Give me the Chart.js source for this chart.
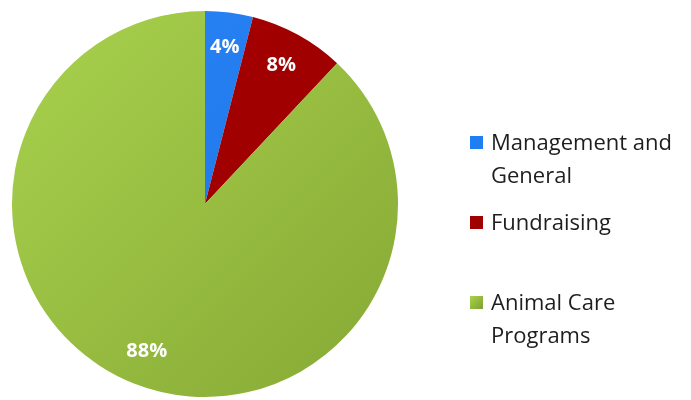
<!DOCTYPE html>
<html lang="en">
<head>
    <meta charset="UTF-8">
    <title>Expense Breakdown</title>
    <script src="https://cdn.jsdelivr.net/npm/chart.js@4.4.0/dist/chart.umd.min.js"></script>
    <style>
        body { margin: 0; background: #fff; font-family: "Open Sans", Arial, sans-serif; }
        .wrap { position: relative; width: 691px; height: 400px; }
        canvas { position: absolute; left: 0; top: 0; }
        #legend { position: absolute; left: 470px; top: 0; color: #1e1e1e; font-size: 22px; }
        .item { position: absolute; left: 0; white-space: nowrap; line-height: 33px; }
        .box { position: absolute; left: 0; width: 13px; height: 13px; }
        .txt { position: absolute; left: 21px; }
    </style>
</head>
<body>
    <div class="wrap">
        <canvas id="pie" width="691" height="400"></canvas>
        <div id="legend"></div>
    </div>

    <script>
        const categories = ['Management and General', 'Fundraising', 'Animal Care Programs'];
        const legendLines = [['Management and', 'General'], ['Fundraising'], ['Animal Care', 'Programs']];
        const shares = [4, 8, 88];
        const colors = ['#1f7ef2', '#a10000', '#95bb40'];

        // white percent labels inside the slices
        const sliceLabels = {
            id: 'sliceLabels',
            afterDatasetsDraw(chart) {
                const ctx = chart.ctx;
                const meta = chart.getDatasetMeta(0);
                ctx.save();
                ctx.fillStyle = '#fff';
                ctx.font = 'bold 20px "Open Sans", Arial, sans-serif';
                ctx.textAlign = 'center';
                ctx.textBaseline = 'middle';
                meta.data.forEach((arc, i) => {
                    const p = arc.getProps(['x', 'y', 'startAngle', 'endAngle', 'outerRadius'], true);
                    const mid = (p.startAngle + p.endAngle) / 2;
                    const r = p.outerRadius * 0.82;
                    ctx.fillText(shares[i] + '%', p.x + Math.cos(mid) * r, p.y + Math.sin(mid) * r);
                });
                ctx.restore();
            }
        };

        function sliceFill(c) {
            const area = c.chart.chartArea;
            if (!area) return colors[c.dataIndex];
            const g = c.chart.ctx.createLinearGradient(area.left, area.top, area.right, area.bottom);
            if (c.dataIndex === 2) {
                g.addColorStop(0, '#a9d24e');
                g.addColorStop(1, '#86a834');
            } else if (c.dataIndex === 0) {
                g.addColorStop(0, '#2a86f8');
                g.addColorStop(1, '#1a70e0');
            } else {
                g.addColorStop(0, '#a80000');
                g.addColorStop(1, '#980000');
            }
            return g;
        }

        new Chart(document.getElementById('pie'), {
            type: 'pie',
            data: {
                labels: categories,
                datasets: [{
                    data: shares,
                    backgroundColor: sliceFill,
                    borderWidth: 0
                }]
            },
            options: {
                responsive: false,
                animation: false,
                layout: { padding: { left: 12, right: 293, top: 11, bottom: 3 } },
                plugins: {
                    legend: { display: false },
                    tooltip: { enabled: false }
                }
            },
            plugins: [sliceLabels]
        });

        // legend on the right
        const legendTops = [125, 205, 285];
        const legend = document.getElementById('legend');
        legendLines.forEach((lines, i) => {
            const item = document.createElement('div');
            item.className = 'item';
            item.style.top = legendTops[i] + 'px';
            const box = document.createElement('div');
            box.className = 'box';
            box.style.top = '11px';
            box.style.background = i === 2 ? 'linear-gradient(135deg, #a9d24e, #7f9f30)' : colors[i];
            item.appendChild(box);
            const txt = document.createElement('div');
            txt.className = 'txt';
            txt.innerHTML = lines.join('<br>');
            item.appendChild(txt);
            legend.appendChild(item);
        });
    </script>
</body>
</html>
